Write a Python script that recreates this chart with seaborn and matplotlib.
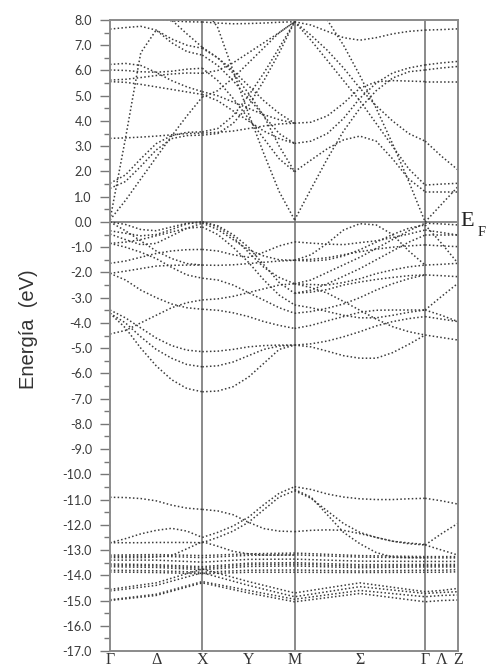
import matplotlib
matplotlib.use("Agg")
import matplotlib.pyplot as plt
import pandas as pd
import seaborn as sns

# ---------------- k-path sample positions ----------------
K_GX = [0.0, 0.167, 0.333, 0.5, 0.667, 0.833, 1.0]
K_XM = [1.0, 1.167, 1.333, 1.5, 1.667, 1.833, 2.0]
K_MG = [2.0, 2.177, 2.354, 2.530, 2.707, 2.884, 3.061, 3.237, 3.414]
K_GZ = [3.414, 3.592, 3.77]
K_SYM = [0.0, 0.5, 1.0, 1.5, 2.0, 2.707, 3.414, 3.592, 3.77]

TICK_POS = [0.0, 0.5, 1.0, 1.5, 2.0, 2.707, 3.414, 3.592, 3.77]
TICK_LABELS = ["Γ", "Δ", "X", "Y", "M", "Σ", "Γ", "Λ", "Z"]
VLINES = [1.0, 2.0, 3.414]

# ---------------- band energies (eV) ----------------
GX_BANDS = [
    [0.08, 3.3, 6.7, 7.6, 7.1, 6.75, 6.61],
    [7.64, 7.7, 7.75, 7.6, 7.25, 7.0, 6.88],
    [8.9, 8.7, 8.45, 8.2, 8.0, 7.45, 6.92],
    [8.4, 8.3, 8.15, 8.05, 7.97, 7.93, 7.92],
    [6.24, 6.28, 6.2, 5.92, 5.6, 5.35, 5.16],
    [6.02, 6.0, 5.95, 5.93, 5.97, 6.05, 6.09],
    [5.62, 5.65, 5.72, 5.8, 5.86, 5.9, 5.89],
    [5.56, 5.53, 5.45, 5.35, 5.25, 5.15, 5.05],
    [0.08, 0.85, 1.7, 2.55, 3.4, 4.2, 4.95],
    [1.53, 1.86, 2.5, 3.1, 3.42, 3.55, 3.57],
    [1.33, 1.6, 2.2, 2.85, 3.3, 3.42, 3.44],
    [3.31, 3.33, 3.36, 3.4, 3.45, 3.5, 3.52],
    [0.0, -0.1, -0.3, -0.35, -0.2, -0.05, 0.0],
    [-0.35, -0.45, -0.55, -0.5, -0.3, -0.08, 0.0],
    [-0.48, -0.7, -0.9, -0.85, -0.55, -0.25, -0.05],
    [0.0, -0.35, -0.75, -1.15, -1.45, -1.65, -1.71],
    [-0.85, -0.8, -0.7, -0.55, -0.4, -0.25, -0.2],
    [-0.85, -1.0, -1.2, -1.45, -1.8, -2.1, -2.23],
    [-1.64, -1.55, -1.4, -1.25, -1.15, -1.1, -1.09],
    [-2.04, -1.95, -1.85, -1.75, -1.72, -1.71, -1.71],
    [-2.04, -2.3, -2.7, -3.0, -3.25, -3.4, -3.46],
    [-4.44, -4.3, -4.0, -3.7, -3.4, -3.2, -3.09],
    [-3.49, -3.8, -4.2, -4.6, -4.9, -5.08, -5.14],
    [-3.62, -4.0, -4.55, -5.05, -5.4, -5.65, -5.74],
    [-3.62, -4.2, -5.0, -5.7, -6.25, -6.6, -6.73],
    [-10.91, -10.92, -10.96, -11.05, -11.22, -11.34, -11.39],
    [-12.71, -12.71, -12.71, -12.7, -12.7, -12.7, -12.71],
    [-12.71, -12.55, -12.36, -12.22, -12.14, -12.25, -12.5],
    [-13.3, -13.3, -13.3, -13.28, -13.22, -12.95, -12.67],
]

XM_BANDS = [
    [3.57, 3.7, 4.2, 5.0, 5.9, 6.9, 7.93],
    [3.44, 3.5, 3.9, 4.6, 5.6, 6.7, 7.93],
    [4.95, 5.2, 5.7, 6.3, 6.9, 7.5, 7.93],
    [5.89, 6.0, 6.3, 6.7, 7.1, 7.5, 7.93],
    [7.92, 7.88, 7.85, 7.86, 7.88, 7.91, 7.93],
    [5.16, 5.0, 4.75, 4.5, 4.25, 4.05, 3.91],
    [5.05, 4.8, 4.4, 4.0, 3.6, 3.3, 3.11],
    [6.09, 5.6, 4.9, 4.1, 3.3, 2.5, 1.99],
    [6.88, 6.5, 6.0, 5.4, 4.8, 4.3, 3.91],
    [6.61, 6.2, 5.6, 4.9, 4.2, 3.5, 3.11],
    [8.6, 7.7, 6.0, 4.3, 2.7, 1.2, 0.08],
    [6.92, 6.5, 5.9, 5.1, 4.2, 3.0, 1.99],
    [3.52, 3.55, 3.6, 3.7, 3.8, 3.88, 3.91],
    [0.0, -0.2, -0.6, -1.2, -1.8, -2.2, -2.45],
    [0.0, -0.15, -0.5, -1.0, -1.7, -2.4, -2.83],
    [-0.05, -0.3, -0.7, -1.1, -1.35, -1.5, -1.52],
    [-0.2, -0.5, -1.0, -1.6, -2.3, -2.9, -3.29],
    [-1.09, -1.15, -1.3, -1.4, -1.2, -0.95, -0.79],
    [-1.71, -1.72, -1.7, -1.65, -1.6, -1.55, -1.52],
    [-2.23, -2.3, -2.5, -2.8, -3.1, -3.4, -3.62],
    [-3.09, -3.05, -2.95, -2.8, -2.65, -2.5, -2.45],
    [-3.46, -3.5, -3.6, -3.75, -3.95, -4.1, -4.22],
    [-5.14, -5.12, -5.05, -4.95, -4.9, -4.88, -4.88],
    [-5.74, -5.7, -5.55, -5.3, -5.05, -4.92, -4.88],
    [-6.73, -6.7, -6.53, -6.15, -5.6, -5.05, -4.88],
    [-11.39, -11.45, -11.6, -11.9, -12.15, -12.25, -12.27],
    [-12.71, -12.5, -12.25, -11.9, -11.4, -10.9, -10.65],
    [-12.5, -12.3, -12.05, -11.7, -11.2, -10.75, -10.49],
    [-12.67, -12.85, -13.05, -13.15, -13.2, -13.2, -13.2],
]

MG_BANDS = [
    [0.08, 1.3, 2.5, 3.6, 4.5, 5.2, 5.7, 5.95, 6.02],
    [1.99, 2.45, 2.9, 3.25, 3.4, 3.2, 2.5, 1.7, 1.2],
    [3.11, 3.2, 3.5, 4.1, 4.9, 5.5, 5.9, 6.1, 6.22],
    [3.91, 3.95, 4.2, 4.7, 5.3, 5.55, 5.6, 5.58, 5.56],
    [7.93, 7.4, 6.8, 6.1, 5.3, 4.6, 4.0, 3.5, 3.2],
    [7.93, 7.2, 6.4, 5.6, 4.8, 3.9, 3.0, 2.1, 1.46],
    [7.93, 7.8, 7.55, 7.3, 7.2, 7.3, 7.45, 7.55, 7.6],
    [9.5, 8.8, 8.0, 7.0, 5.8, 4.5, 3.1, 1.6, 0.0],
    [-1.52, -1.3, -0.85, -0.32, -0.07, -0.12, -0.5, -1.15, -1.71],
    [-0.79, -0.84, -0.88, -0.9, -0.82, -0.75, -0.62, -0.48, -0.32],
    [-1.52, -1.48, -1.42, -1.3, -1.18, -1.08, -1.0, -0.95, -0.91],
    [-2.45, -2.3, -2.0, -1.7, -1.4, -1.05, -0.7, -0.35, -0.05],
    [-2.83, -2.7, -2.45, -2.15, -1.85, -1.5, -1.15, -0.8, -0.52],
    [-2.45, -2.48, -2.5, -2.4, -2.25, -2.05, -1.9, -1.78, -1.71],
    [-2.83, -2.78, -2.68, -2.5, -2.38, -2.28, -2.2, -2.13, -2.1],
    [-3.62, -3.55, -3.42, -3.25, -3.0, -2.7, -2.45, -2.25, -2.1],
    [-3.29, -3.4, -3.55, -3.7, -3.8, -3.8, -3.7, -3.58, -3.49],
    [-4.22, -4.1, -3.92, -3.75, -3.58, -3.5, -3.49, -3.49, -3.49],
    [-4.88, -4.83, -4.72, -4.55, -4.35, -4.12, -3.95, -3.83, -3.75],
    [-4.88, -4.95, -5.12, -5.3, -5.4, -5.4, -5.18, -4.85, -4.48],
    [-2.45, -2.6, -2.82, -3.15, -3.5, -3.85, -4.15, -4.35, -4.48],
    [-1.52, -1.55, -1.5, -1.35, -1.1, -0.8, -0.5, -0.25, -0.12],
    [-10.49, -10.6, -10.78, -10.9, -10.97, -11.0, -11.0, -10.97, -10.95],
    [-10.65, -10.95, -11.45, -11.95, -12.3, -12.5, -12.65, -12.75, -12.8],
    [-10.6, -10.9, -11.6, -12.3, -12.75, -13.1, -13.28, -13.3, -13.3],
    [-12.27, -12.22, -12.2, -12.22, -12.35, -12.5, -12.65, -12.72, -12.78],
]

GZ_BANDS = [
    [7.6, 7.62, 7.65], [6.22, 6.3, 6.36], [6.02, 6.1, 6.16], [5.56, 5.56, 5.56],
    [3.2, 2.6, 2.06], [1.46, 1.5, 1.53], [1.2, 1.2, 1.2], [0.0, 0.7, 1.4],
    [-0.05, -0.08, -0.12], [-0.12, -0.85, -1.64], [-0.32, -0.42, -0.52],
    [-0.52, -0.52, -0.52], [-0.91, -0.95, -0.98], [-1.71, -1.68, -1.64],
    [-2.1, -2.13, -2.17], [-3.49, -2.95, -2.43], [-3.75, -3.85, -3.95],
    [-4.48, -4.58, -4.68], [-3.49, -3.7, -3.95],
    [-10.95, -11.05, -11.18], [-12.8, -12.35, -11.94], [-12.8, -13.0, -13.2],
]

# nearly flat semicore bands, given at Γ, Δ, X, Y, M, Σ, Γ, Λ, Z
FLAT_BANDS = [
    [-13.2, -13.18, -13.22, -13.15, -13.12, -13.22, -13.26, -13.26, -13.26],
    [-13.25, -13.24, -13.3, -13.21, -13.19, -13.28, -13.31, -13.31, -13.31],
    [-13.4, -13.4, -13.48, -13.37, -13.36, -13.44, -13.45, -13.45, -13.45],
    [-13.55, -13.58, -13.66, -13.52, -13.5, -13.58, -13.57, -13.57, -13.57],
    [-13.6, -13.63, -13.72, -13.58, -13.56, -13.64, -13.62, -13.62, -13.62],
    [-13.66, -13.69, -13.78, -13.65, -13.63, -13.7, -13.67, -13.67, -13.67],
    [-13.8, -13.82, -13.88, -13.8, -13.79, -13.83, -13.8, -13.8, -13.78],
    [-13.87, -13.89, -13.94, -13.88, -13.88, -13.89, -13.88, -13.88, -13.86],
    [-14.56, -14.3, -13.75, -14.25, -14.7, -14.3, -14.65, -14.6, -14.52],
    [-14.62, -14.4, -13.9, -14.4, -14.85, -14.45, -14.72, -14.68, -14.65],
    [-14.97, -14.75, -14.25, -14.6, -14.95, -14.6, -14.85, -14.8, -14.78],
    [-15.0, -14.8, -14.3, -14.7, -15.05, -14.72, -15.05, -15.0, -14.98],
]

# ---------------- build long table ----------------
rows = []
cid = 0
for kvals, bands in [(K_GX, GX_BANDS), (K_XM, XM_BANDS), (K_MG, MG_BANDS),
                     (K_GZ, GZ_BANDS), (K_SYM, FLAT_BANDS)]:
    for band in bands:
        for k, e in zip(kvals, band):
            rows.append({"k": k, "E": e, "curve": cid})
        cid += 1
df = pd.DataFrame(rows)

# ---------------- figure ----------------
sns.set_style("white")
plt.rcParams["font.family"] = ["DejaVu Sans"]

fig = plt.figure(figsize=(4.88, 6.68), dpi=100)
ax = fig.add_axes([110 / 488, 1 - 651 / 668, 348 / 488, 631 / 668])

sns.lineplot(data=df, x="k", y="E", units="curve", estimator=None, sort=False,
             color="#3a3a3a", linewidth=1.1, linestyle=(0, (1.0, 1.5)), ax=ax)

for xv in VLINES:
    ax.axvline(xv, color="#777777", lw=1.2, zorder=1)
ax.axhline(0.0, color="#777777", lw=1.2, zorder=1)

ax.set_xlim(0, 3.77)
ax.set_ylim(-17, 8)

yt = [float(v) for v in range(-17, 9)]
ax.set_yticks(yt)
ax.set_yticklabels([f"{v:.1f}" for v in yt], fontfamily="Lato", fontsize=9, color="#3a3a3a")
ax.set_yticks([v + 0.5 for v in range(-17, 8)], minor=True)
ax.tick_params(axis="y", which="major", direction="out", length=7, width=1, color="#777777",
               pad=6, left=True)
ax.tick_params(axis="y", which="minor", direction="out", length=4.5, width=1, color="#777777",
               left=True)

ax.set_xticks(TICK_POS)
ax.set_xticklabels(TICK_LABELS, fontfamily="Liberation Serif", fontsize=11.5, color="#333333")
ax.tick_params(axis="x", length=0, pad=1)

ax.set_xlabel("")
ax.set_ylabel("")
for s in ax.spines.values():
    s.set_color("#8a8a8a")
    s.set_linewidth(1.4)

fig.text(0.058, 1 - 329 / 668, "Energía  (eV)", rotation=90, ha="center", va="center",
         fontfamily="Liberation Sans", fontsize=14.5, color="#333333")
ax.text(1.008, 0.0, "E", transform=ax.get_yaxis_transform(), ha="left", va="center",
        fontfamily="Liberation Serif", fontsize=16, color="#222222")
ax.text(1.056, -0.42, "F", transform=ax.get_yaxis_transform(), ha="left", va="center",
        fontfamily="Liberation Serif", fontsize=10.5, color="#222222")

fig.savefig("out.png", dpi=100, facecolor="white")
